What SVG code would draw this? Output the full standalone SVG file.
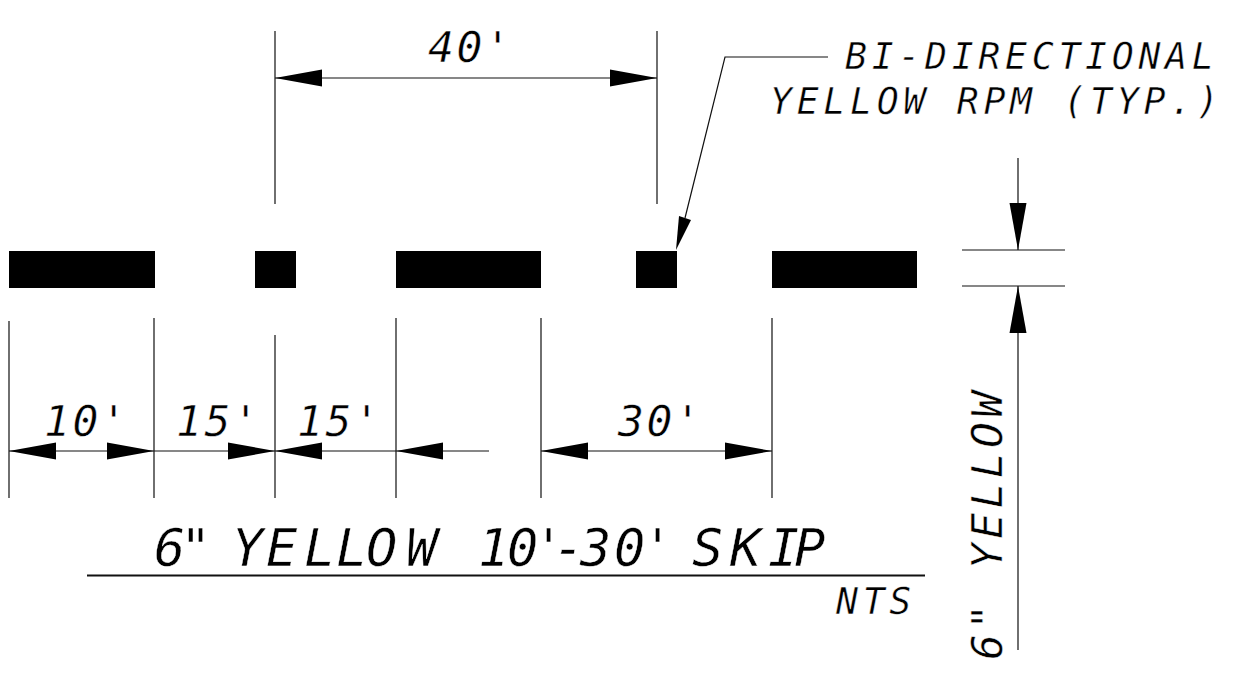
<svg xmlns="http://www.w3.org/2000/svg" width="1240" height="678" viewBox="0 0 1240 678">
<style>
.l{stroke:#111;stroke-width:1.2;fill:none}
.t{font-family:"DejaVu Sans Mono",monospace;font-style:italic;fill:#000;stroke:#fff;stroke-width:.45}
.s{font-size:36.5px;letter-spacing:4.7px}
.m{font-size:43px;letter-spacing:2.500px}
.b{fill:#000}
</style>
<defs>
<path id="ar" d="M0 0L-47 -8.5L-47 8.5Z" fill="#000"/>
</defs>
<rect width="1240" height="678" fill="#fff"/>
<g id="stripes">
<rect id="s1" class="b" x="9" y="251" width="146" height="37"/>
<rect id="s2" class="b" x="255" y="251" width="41" height="37"/>
<rect id="s3" class="b" x="396" y="251" width="145" height="37"/>
<rect id="s4" class="b" x="636" y="251" width="41" height="37"/>
<rect id="s5" class="b" x="772" y="251" width="145" height="37"/>
</g>
<g id="connectors">
<path class="l" d="M275 31V204M657 31V204M275 78H657"/>
<path class="l" d="M828 57H725L685 218"/>
<path d="M676 250L679 216L691 220Z" fill="#000"/>
<path class="l" d="M9 321V498M154 318V498M275 335V498M396 318V498M541 318V498M772 318V498"/>
<path class="l" d="M9 451H489M541 451H772"/>
<path class="l" d="M962 250H1065M962 286H1065M1018 158V250M1018 286V650"/>
<path class="l" style="stroke-width:1.8" d="M87 575.500H925"/>
<use href="#ar" transform="translate(275 78) rotate(180)"/>
<use href="#ar" transform="translate(657 78)"/>
<use href="#ar" transform="translate(9 451) rotate(180)"/>
<use href="#ar" transform="translate(154 451)"/>
<use href="#ar" transform="translate(275 451)"/>
<use href="#ar" transform="translate(275 451) rotate(180)"/>
<use href="#ar" transform="translate(396 451) rotate(180)"/>
<use href="#ar" transform="translate(541 451) rotate(180)"/>
<use href="#ar" transform="translate(772 451)"/>
<use href="#ar" transform="translate(1018 250) rotate(90)"/>
<use href="#ar" transform="translate(1018 286) rotate(-90)"/>
</g>
<g id="labels">
<text class="t m" x="428" y="62">40'</text>
<text class="t s" x="845" y="68.500">BI-DIRECTIONAL</text>
<text class="t s" x="770" y="114">YELLOW RPM (TYP.)</text>
<text class="t m" x="44" y="436">10'</text>
<text class="t m" x="176" y="436">15'</text>
<text class="t m" x="297" y="436">15'</text>
<text class="t m" x="618" y="436">30'</text>
<text class="t" font-size="52" y="566" x="154 180 210 232 266 304 336 366 406 440 478 507 533 553 580 614 642 670 692 730 768 794">6" YELLOW 10'-30' SKIP</text>
<text class="t s" x="836" y="614">NTS</text>
<text class="t m" style="letter-spacing:4.400px" transform="translate(1002 660) rotate(-90)">6" YELLOW</text>
</g>
</svg>
